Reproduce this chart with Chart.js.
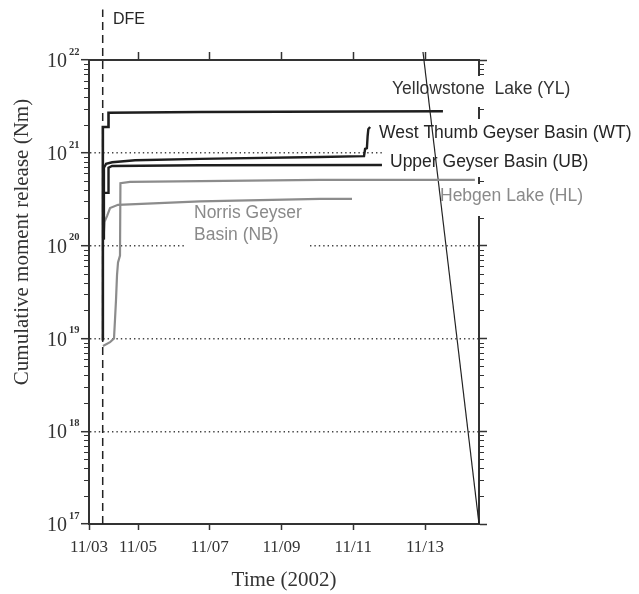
<!DOCTYPE html>
<html>
<head>
<meta charset="utf-8">
<script src="https://cdn.jsdelivr.net/npm/chart.js@4.4.0/dist/chart.umd.min.js"></script>
<style>
  html, body { margin: 0; padding: 0; background: #fff; }
  #wrap { width: 639px; height: 594px; position: relative; }
</style>
</head>
<body>
<div id="wrap"><canvas id="chart"></canvas></div>
<script>
// --- axis data ---
const dayMin = 3.634, dayMax = 14.505;
const tickDays = [3.634, 5, 7, 9, 11, 13];
const tickLabels = ['11/03', '11/05', '11/07', '11/09', '11/11', '11/13'];
const decadeExps = [17, 18, 19, 20, 21, 22];
const minorMults = [2, 3, 4, 5, 6, 7, 8, 9];

// --- series (day of November 2002, cumulative moment in Nm) ---
const ylDays   = [4.02, 4.02, 4.164, 4.178, 6.73, 13.50];
const ylMoment = [9.5e18, 1.9e21, 1.9e21, 2.7e21, 2.75e21, 2.8e21];

const wtDays   = [4.03, 4.05, 4.11, 4.28, 4.92, 6.73, 10.07, 11.30, 11.33, 11.38, 11.40, 11.42, 11.47];
const wtMoment = [1.2e20, 6.9e20, 7.6e20, 7.9e20, 8.3e20, 8.6e20, 9.0e20, 9.2e20, 1.1e21, 1.12e21, 1.5e21, 1.8e21, 1.9e21];

const ubDays   = [4.03, 4.035, 4.164, 4.178, 4.275, 6.73, 11.80];
const ubMoment = [1.5e20, 3.7e20, 3.7e20, 6.9e20, 7.2e20, 7.35e20, 7.4e20];

const hlDays   = [4.024, 4.22, 4.331, 4.359, 4.387, 4.415, 4.443, 4.498, 4.51, 4.777, 10.07, 14.39];
const hlMoment = [8.3e18, 9.1e18, 1.0e19, 1.6e19, 2.6e19, 4.8e19, 6.6e19, 7.8e19, 4.7e20, 4.85e20, 5.1e20, 5.1e20];

const nbDays   = [4.038, 4.066, 4.136, 4.22, 4.443, 6.73, 10.07, 10.965];
const nbMoment = [1.15e20, 1.8e20, 2.08e20, 2.54e20, 2.75e20, 3.0e20, 3.18e20, 3.18e20];

// DFE marker and the stray diagonal line of the original figure
const dfeDays = [4.016, 4.016];
const dfeMoment = [1e17, 3.5e22];
const edgeDays = [12.944, 14.505];
const edgeMoment = [1.22e22, 1e17];

const seriesNames = [
  ['Yellowstone  Lake (YL)'],
  ['West Thumb Geyser Basin (WT)'],
  ['Upper Geyser Basin (UB)'],
  ['Hebgen Lake (HL)'],
  ['Norris Geyser', 'Basin (NB)']
];

const black = '#1e1e1e';
const grey = '#8c8c8c';

function pts(xs, ys) {
  return xs.map((x, i) => ({ x, y: ys[i] }));
}

// label placement: left x, first line centre y, colour, white box behind
const labelStyle = [
  { x: 392, y: 89,  color: '#333',    box: [386, 76, 196, 31] },
  { x: 379, y: 133, color: '#262626', box: [373, 119, 266, 29] },
  { x: 390, y: 162, color: '#262626', box: [384, 148, 214, 29] },
  { x: 440, y: 196, color: '#8a8a8a', box: [434, 184, 156, 32] },
  { x: 194, y: 213, color: '#8a8a8a', box: [185, 200, 122, 50] }
];

const decor = {
  id: 'decor',
  beforeDatasetsDraw(chart) {
    const { ctx, chartArea: a } = chart;
    const y = chart.scales.y;
    ctx.save();

    // minor ticks on both log axes
    ctx.strokeStyle = '#333';
    ctx.lineWidth = 1.2;
    decadeExps.slice(0, -1).forEach(e => {
      minorMults.forEach(m => {
        const py = Math.round(y.getPixelForValue(m * Math.pow(10, e))) + 0.5;
        ctx.beginPath();
        ctx.moveTo(a.left - 5, py); ctx.lineTo(a.left, py);
        ctx.moveTo(a.right, py); ctx.lineTo(a.right + 5, py);
        ctx.stroke();
      });
    });

    // 10^n tick labels
    ctx.fillStyle = '#333';
    decadeExps.forEach(e => {
      const py = y.getPixelForValue(Math.pow(10, e));
      ctx.font = '20px "Liberation Serif"';
      ctx.textAlign = 'right';
      ctx.textBaseline = 'middle';
      ctx.fillText('10', 67, py + 2);
      ctx.font = 'bold 10.5px "Liberation Serif"';
      ctx.textAlign = 'left';
      ctx.fillText(String(e), 69, py - 8);
    });

    // y title
    ctx.save();
    ctx.translate(22, 242);
    ctx.rotate(-Math.PI / 2);
    ctx.font = '21px "Liberation Serif"';
    ctx.textAlign = 'center';
    ctx.textBaseline = 'middle';
    ctx.fillText('Cumulative moment release (Nm)', 0, 0);
    ctx.restore();

    // series labels with white boxes (they hide the grid and the right axis)
    ctx.font = '17.5px "Liberation Sans"';
    ctx.textAlign = 'left';
    ctx.textBaseline = 'middle';
    seriesNames.forEach((lines, i) => {
      const s = labelStyle[i];
      ctx.fillStyle = '#fff';
      ctx.fillRect(s.box[0], s.box[1], s.box[2], s.box[3]);
      ctx.fillStyle = s.color;
      lines.forEach((t, j) => ctx.fillText(t, s.x, s.y + j * 22));
    });

    // DFE
    ctx.font = '16px "Liberation Sans"';
    ctx.fillStyle = '#262626';
    ctx.fillText('DFE', 113, 20);

    ctx.restore();
  }
};

new Chart(document.getElementById('chart'), {
  type: 'scatter',
  data: {
    datasets: [
      { data: pts(ylDays, ylMoment), borderColor: black, borderWidth: 2.6 },
      { data: pts(wtDays, wtMoment), borderColor: black, borderWidth: 2.4 },
      { data: pts(ubDays, ubMoment), borderColor: black, borderWidth: 2.4 },
      { data: pts(hlDays, hlMoment), borderColor: grey, borderWidth: 2.2 },
      { data: pts(nbDays, nbMoment), borderColor: grey, borderWidth: 2.2 },
      { data: pts(dfeDays, dfeMoment), borderColor: '#222', borderWidth: 1.5, borderDash: [8, 5], clip: false },
      { data: pts(edgeDays, edgeMoment), borderColor: '#222', borderWidth: 1.2, clip: false }
    ]
  },
  options: {
    animation: false,
    responsive: true,
    maintainAspectRatio: false,
    layout: { padding: 0 },
    datasets: { scatter: { showLine: true, pointRadius: 0, tension: 0 } },
    plugins: { legend: { display: false }, tooltip: { enabled: false } },
    scales: {
      x: {
        type: 'linear', position: 'bottom', min: dayMin, max: dayMax,
        afterBuildTicks: s => { s.ticks = tickDays.map(v => ({ value: v })); },
        afterFit: s => { s.height = 70; },
        grid: { drawOnChartArea: false, tickLength: 6, tickColor: '#333', tickWidth: 1.5 },
        border: { color: '#333', width: 2 },
        ticks: {
          color: '#333', padding: 7, maxRotation: 0, autoSkip: false,
          font: { family: 'Liberation Serif', size: 17 },
          callback: (v, i) => tickLabels[i]
        },
        title: {
          display: true, text: 'Time (2002)', color: '#333',
          font: { family: 'Liberation Serif', size: 21 }, padding: { top: 0, bottom: 1 }
        }
      },
      xTop: {
        type: 'linear', position: 'top', min: dayMin, max: dayMax,
        afterBuildTicks: s => { s.ticks = tickDays.slice(1).map(v => ({ value: v })); },
        afterFit: s => { s.height = 60; },
        grid: { drawOnChartArea: false, tickLength: 8, tickColor: '#333', tickWidth: 1.5 },
        border: { color: '#333', width: 2 },
        ticks: { display: false }
      },
      y: {
        type: 'logarithmic', position: 'left', min: 1e17, max: 1e22,
        afterBuildTicks: s => { s.ticks = decadeExps.map(e => ({ value: Math.pow(10, e), major: true })); },
        afterFit: s => { s.width = 89; },
        grid: { color: '#444', lineWidth: 1.4, tickLength: 8, tickColor: '#333', tickWidth: 1.5 },
        border: { color: '#333', width: 2, dash: [1.4, 3] },
        ticks: { display: false }
      },
      yRight: {
        type: 'logarithmic', position: 'right', min: 1e17, max: 1e22,
        afterBuildTicks: s => { s.ticks = decadeExps.map(e => ({ value: Math.pow(10, e), major: true })); },
        afterFit: s => { s.width = 160; },
        grid: { drawOnChartArea: false, tickLength: 8, tickColor: '#333', tickWidth: 1.5 },
        border: { color: '#333', width: 2 },
        ticks: { display: false }
      }
    }
  },
  plugins: [decor]
});
</script>
</body>
</html>
